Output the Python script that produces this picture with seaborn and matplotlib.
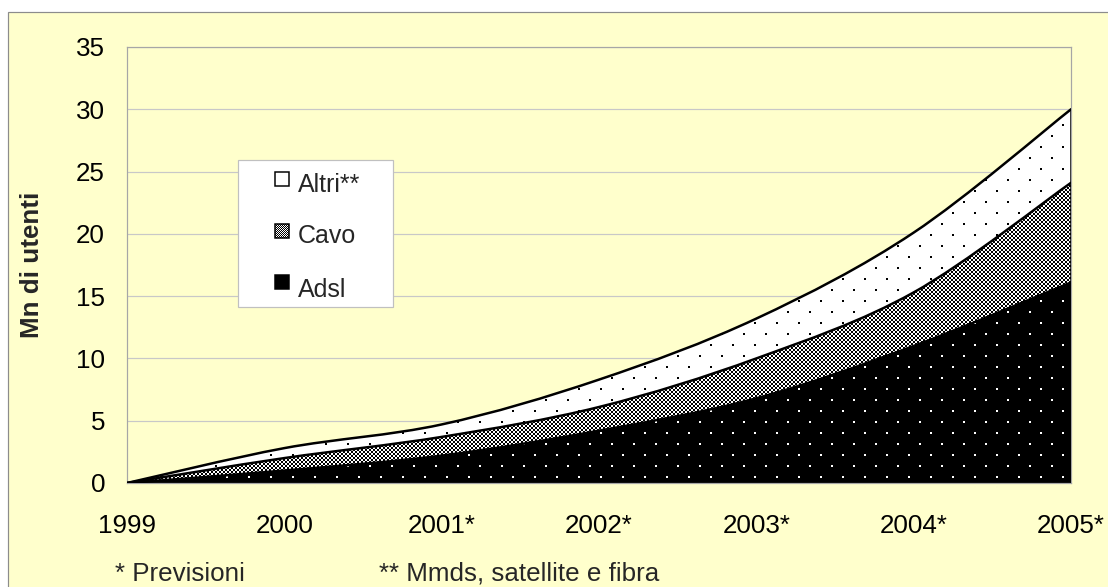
import matplotlib
matplotlib.use("Agg")
import matplotlib.pyplot as plt
from matplotlib.path import Path
from matplotlib.patches import PathPatch, Rectangle
import numpy as np
import seaborn as sns

# Broadband users (millions), stacked by access technology
years = [1999, 2000, 2001, 2002, 2003, 2004, 2005]
year_labels = ["1999", "2000", "2001*", "2002*", "2003*", "2004*", "2005*"]
adsl = [0.0, 1.0, 2.2, 4.2, 6.8, 11.0, 16.1]
cavo = [0.0, 1.0, 1.5, 1.9, 3.2, 4.3, 8.0]
altri = [0.0, 0.8, 1.0, 2.2, 3.2, 4.8, 5.9]
series_names = ["Adsl", "Cavo", "Altri**"]
y_ticks = [0, 5, 10, 15, 20, 25, 30, 35]

sns.set_style("white")
plt.rcParams["font.family"] = ["Liberation Sans", "DejaVu Sans"]

BG = "#FFFFCC"
FS = 26
DPI = 72
W, H = 1108, 587
AX_L, AX_R, AX_T, AX_B = 127, 1071, 47, 483


def fx(px):
    return px / W


def fy(py):
    return 1 - py / H


fig = plt.figure(figsize=(W / DPI, H / DPI), dpi=DPI, facecolor="white")
fig.patches.append(Rectangle((fx(8), -0.2), 1.5, 1.2 - 12 / H,
                             transform=fig.transFigure, facecolor=BG,
                             edgecolor="#8C8C8C", lw=1.2, zorder=-5))

ax = fig.add_axes([fx(AX_L), fy(AX_B), (AX_R - AX_L) / W, (AX_B - AX_T) / H])
ax.set_zorder(1)
ax.set_facecolor(BG)


def smooth_curve(x, y):
    """Cubic Bezier chain through the points (Catmull-Rom style tangents)."""
    verts = [(x[0], y[0])]
    codes = [Path.MOVETO]
    n = len(x)
    for i in range(n - 1):
        xp, yp = (x[i - 1], y[i - 1]) if i > 0 else (x[i], y[i])
        xn, yn = (x[i + 2], y[i + 2]) if i + 2 < n else (x[i + 1], y[i + 1])
        c1 = (x[i] + (x[i + 1] - xp) / 6, y[i] + (y[i + 1] - yp) / 6)
        c2 = (x[i + 1] - (xn - x[i]) / 6, y[i + 1] - (yn - y[i]) / 6)
        verts += [c1, c2, (x[i + 1], y[i + 1])]
        codes += [Path.CURVE4] * 3
    return verts, codes


def band_path(x, lower, upper):
    uv, uc = smooth_curve(x, upper)
    lv, lc = smooth_curve(x, lower)
    lv = lv[::-1]
    verts = uv + [lv[0]] + lv[1:] + [uv[0]]
    codes = uc + [Path.LINETO] + [Path.CURVE4] * (len(lv) - 1) + [Path.CLOSEPOLY]
    return Path(verts, codes)


# pixel fill textures (sparse dots, fine checkerboard)
def dot_mask(h, w, step=11):
    yy, xx = np.mgrid[0:h, 0:w]
    row = yy // step
    off = (row % 2) * step
    return ((yy % step) < 2) & (((xx - off) % (2 * step)) < 2)


def checker_mask(h, w, cell=2):
    yy, xx = np.mgrid[0:h, 0:w]
    return ((xx // cell + yy // cell) % 2) == 0


def to_rgb(mask, fg, bg):
    fg = np.array(matplotlib.colors.to_rgb(fg))
    bg = np.array(matplotlib.colors.to_rgb(bg))
    return np.where(mask[..., None], fg, bg)


ph, pw = AX_B - AX_T, AX_R - AX_L
textures = [
    to_rgb(dot_mask(ph, pw), "white", "black"),
    to_rgb(checker_mask(ph, pw), "black", "white"),
    to_rgb(dot_mask(ph, pw), "black", "white"),
]

x = np.array(years, dtype=float)
base = np.zeros(len(x))
top_adsl = np.array(adsl)
top_cavo = top_adsl + np.array(cavo)
top_all = top_cavo + np.array(altri)

bounds = [(base, top_adsl), (top_adsl, top_cavo), (top_cavo, top_all)]
for (lo, hi), tex in zip(bounds, textures):
    clip = PathPatch(band_path(x, lo, hi), transform=ax.transData,
                     facecolor="none", lw=0)
    im = ax.imshow(tex, extent=(years[0], years[-1], 0, 35), origin="upper",
                   interpolation="nearest", aspect="auto", zorder=2)
    im.set_clip_path(clip)

for hi in (top_adsl, top_cavo, top_all):
    v, c = smooth_curve(x, hi)
    ax.add_patch(PathPatch(Path(v, c), facecolor="none", edgecolor="black",
                           lw=2.5, zorder=3, capstyle="round", joinstyle="round"))
ax.plot([x[-1], x[-1]], [0, top_all[-1]], color="black", lw=2.5, zorder=3)

ax.set_xlim(years[0], years[-1])
ax.set_ylim(0, 35)
ax.set_xticks(years)
ax.set_xticklabels(year_labels)
ax.set_yticks(y_ticks)
ax.yaxis.grid(True, color="#C8C8C8", lw=1.2)
ax.xaxis.grid(False)
ax.set_axisbelow(True)
for s in ax.spines.values():
    s.set_color("#A6A6A6")
    s.set_linewidth(1.2)
    s.set_visible(True)
ax.tick_params(axis="both", direction="out", color="#A6A6A6",
               labelsize=FS, labelcolor="black")
ax.tick_params(axis="x", length=7, pad=24)
ax.tick_params(axis="y", length=8, pad=14)

fig.text(fx(32), fy(265), "Mn di utenti", rotation=90, ha="center",
         va="center", fontsize=FS, fontweight="bold")
fig.text(fx(115), fy(581), "* Previsioni", ha="left", va="baseline", fontsize=FS)
fig.text(fx(379), fy(581), "** Mmds, satellite e fibra", ha="left",
         va="baseline", fontsize=FS)

# legend box
fig.patches.append(Rectangle((fx(238), fy(307)), (393 - 238) / W, (307 - 160) / H,
                             transform=fig.transFigure, facecolor="white",
                             edgecolor="#C0C0C0", lw=1.2, zorder=5))
key_tex = [
    to_rgb(np.zeros((14, 14), bool), "black", "black"),
    to_rgb(checker_mask(14, 14, 1), "black", "white"),
    to_rgb(np.zeros((14, 14), bool), "black", "white"),
]
key_top = [275, 224, 172]
label_base = [297, 243, 192]
for name, tex, kt, lb in zip(series_names, key_tex, key_top, label_base):
    fig.figimage(tex, xo=275, yo=H - kt - 14, zorder=6)
    fig.patches.append(Rectangle((fx(275), fy(kt + 14)), 14 / W, 14 / H,
                                 transform=fig.transFigure, facecolor="none",
                                 edgecolor="black", lw=1.5, zorder=7))
    fig.text(fx(298), fy(lb), name, ha="left", va="baseline", fontsize=25,
             zorder=7)

fig.savefig("out.png", dpi=DPI, facecolor=fig.get_facecolor())
